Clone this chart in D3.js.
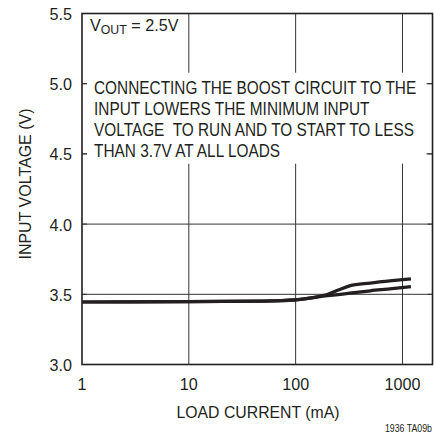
<!DOCTYPE html>
<html>
<head>
<meta charset="utf-8">
<script src="https://cdn.jsdelivr.net/npm/d3@7"></script>
<style>
  body { margin: 0; background: #fff; }
  text { font-family: "Liberation Sans", Arial, sans-serif; fill: #231f20; }
</style>
</head>
<body>
<svg width="434" height="435"></svg>
<script>
// load current (mA) and input voltage (V)
var loadCurrent = [1, 10, 50, 100, 150, 200, 250, 320, 500, 800, 1200];
var vinUpper = [3.445, 3.448, 3.452, 3.46, 3.478, 3.50, 3.53, 3.56, 3.58, 3.597, 3.61];
var vinLower = [3.445, 3.448, 3.452, 3.46, 3.478, 3.49, 3.498, 3.508, 3.525, 3.54, 3.555];

var xTicks = [1, 10, 100, 1000];
var xTickLabels = ["1", "10", "100", "1000"];
var yTicks = [3.0, 3.5, 4.0, 4.5, 5.0, 5.5];
var yTickLabels = ["3.0", "3.5", "4.0", "4.5", "5.0", "5.5"];
var noteLines = [
  "CONNECTING THE BOOST CIRCUIT TO THE",
  "INPUT LOWERS THE MINIMUM INPUT",
  "VOLTAGE  TO RUN AND TO START TO LESS",
  "THAN 3.7V AT ALL LOADS"
];

var margin = { top: 13.5, left: 82 };
var width = 350.5, height = 351;

var svg = d3.select("svg");
var g = svg.append("g")
  .attr("transform", "translate(" + margin.left + "," + margin.top + ")");

var x = d3.scaleLog().domain([1, 1910]).range([0, width]);
var y = d3.scaleLinear().domain([3.0, 5.5]).range([height, 0]);

// condensed text: squeeze horizontally around the anchor point
function label(parent, px, py, str, size, sx, anchor) {
  return parent.append("text")
    .attr("transform", "translate(" + px + "," + py + ") scale(" + sx + ",1)")
    .attr("font-size", size)
    .attr("text-anchor", anchor || "start")
    .style("white-space", "pre")
    .text(str);
}

// grid
g.selectAll(".vgrid").data(xTicks.slice(1))
  .enter().append("line")
  .attr("x1", d => x(d)).attr("x2", d => x(d))
  .attr("y1", 0).attr("y2", height)
  .attr("stroke", "#333").attr("stroke-width", 1);

g.selectAll(".hgrid").data(yTicks.slice(1, -1))
  .enter().append("line")
  .attr("x1", 0).attr("x2", width)
  .attr("y1", d => y(d)).attr("y2", d => y(d))
  .attr("stroke", "#333").attr("stroke-width", 1);

// white box behind the note
g.append("rect")
  .attr("x", 5).attr("y", y(5.0) - 11)
  .attr("width", width - 11).attr("height", 91)
  .attr("fill", "#fff");

// short ticks on both sides
yTicks.forEach(function(v) {
  g.append("line").attr("x1", 0).attr("x2", 5)
    .attr("y1", y(v)).attr("y2", y(v)).attr("stroke", "#333");
  g.append("line").attr("x1", width - 5).attr("x2", width)
    .attr("y1", y(v)).attr("y2", y(v)).attr("stroke", "#333");
});

// frame
g.append("rect")
  .attr("width", width).attr("height", height)
  .attr("fill", "none").attr("stroke", "#231f20").attr("stroke-width", 1.6);

// curves
var line = d3.line()
  .x((d, i) => x(loadCurrent[i]))
  .y(d => y(d))
  .curve(d3.curveMonotoneX);

[vinLower, vinUpper].forEach(function(s) {
  g.append("path")
    .datum(s)
    .attr("d", line)
    .attr("fill", "none")
    .attr("stroke", "#231f20")
    .attr("stroke-width", 3.2)
    .attr("stroke-linejoin", "round");
});

// tick labels
xTicks.forEach(function(d, i) {
  label(g, x(d), height + 25, xTickLabels[i], 17, 0.95, "middle");
});
yTicks.forEach(function(d, i) {
  label(g, -10, y(d) + 6.5, yTickLabels[i], 17, 0.95, "end");
});

// axis titles
label(svg, 258, 418, "LOAD CURRENT (mA)", 16.3, 0.97, "middle");
svg.append("text")
  .attr("transform", "translate(31,184) rotate(-90)")
  .attr("text-anchor", "middle")
  .attr("font-size", 16)
  .text("INPUT VOLTAGE (V)");

// VOUT label
var vout = label(svg, 90, 30.5, "", 17, 0.95);
vout.append("tspan").text("V");
vout.append("tspan").attr("font-size", 13).attr("dy", 3).text("OUT");
vout.append("tspan").attr("dy", -3).text(" = 2.5V");

// note
noteLines.forEach(function(d, i) {
  label(svg, 94, 94 + i * 21, d, 18, 0.855);
});

label(svg, 432, 432, "1936 TA09b", 11, 0.8, "end");
</script>
</body>
</html>
